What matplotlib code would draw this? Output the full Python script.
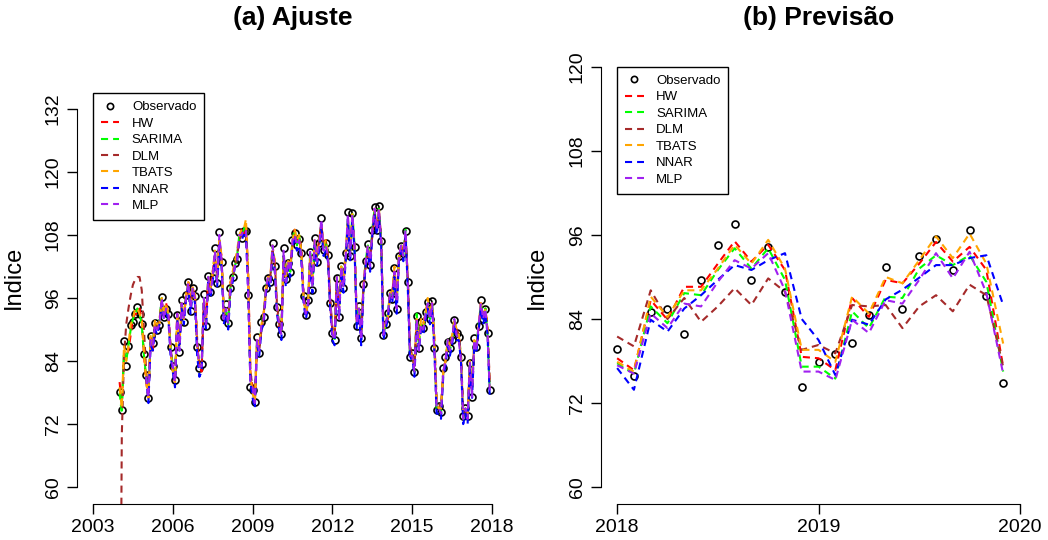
"""Ajuste (2004-2017) e previsão (2018-2019) do índice mensal por seis modelos."""

import matplotlib
matplotlib.use("Agg")  # headless
import matplotlib.pyplot as plt
from matplotlib.lines import Line2D
import numpy as np

plt.rcParams["font.family"] = ["Liberation Sans", "DejaVu Sans"]

# ---------------------------------------------------------------------------
# (a) Ajuste: Jan/2004 - Dez/2017
# ---------------------------------------------------------------------------
FIT_START = 2004

OBSERVADO = [
    78.2, 74.6, 87.8, 83.1, 86.9, 90.9, 91.5, 93.0, 94.3, 93.0, 91.0, 85.3,
    81.4, 77.0, 88.8, 87.4, 91.3, 90.0, 90.9, 96.1, 92.3, 94.0, 93.0, 86.7,
    83.0, 80.4, 92.8, 85.8, 95.6, 91.5, 96.5, 99.1, 93.6, 97.9, 96.3, 86.7,
    82.6, 83.5, 96.7, 90.7, 100.2, 97.2, 99.9, 105.5, 98.8, 108.6, 102.9, 92.3,
    94.9, 91.2, 98.0, 100.0, 102.6, 103.5, 108.6, 107.5, 108.8, 108.8, 96.6, 79.1,
    78.5, 76.3, 88.6, 85.5, 91.5, 92.4, 98.0, 99.8, 99.0, 106.4, 102.1, 94.2,
    91.0, 89.1, 105.5, 99.6, 102.7, 101.0, 107.0, 108.3, 106.0, 107.2, 104.5, 96.3,
    92.8, 95.6, 104.8, 97.5, 107.4, 102.9, 106.4, 111.2, 105.1, 106.4, 104.2, 95.0,
    89.3, 88.1, 99.8, 92.3, 102.1, 98.0, 104.6, 112.4, 104.0, 112.2, 105.8, 90.7,
    94.5, 88.3, 98.6, 103.1, 106.2, 102.3, 108.9, 113.3, 108.9, 113.6, 106.8, 88.9,
    91.0, 93.1, 97.0, 95.9, 101.7, 94.0, 104.0, 105.9, 104.5, 108.8, 99.1, 84.8,
    85.6, 81.9, 92.6, 86.4, 91.5, 90.2, 93.4, 95.3, 92.1, 95.4, 86.5, 74.6,
    75.5, 74.4, 82.6, 84.7, 87.7, 86.5, 88.1, 91.8, 89.4, 88.6, 84.7, 73.5,
    75.0, 73.5, 83.7, 77.1, 88.3, 86.6, 90.7, 95.6, 92.0, 93.9, 89.4, 78.4,
]

HW_FIT = [
    80, 76, 85, 85, 86, 89, 92, 93, 93, 94, 92, 85,
    80, 77, 89, 86, 91, 91, 92, 95, 93, 95, 93, 86,
    82, 80, 93, 88, 94, 93, 96, 99, 95, 98, 96, 88,
    83, 82, 95, 92, 99, 98, 101, 104, 100, 106, 104, 93,
    92, 92, 99, 100, 103, 104, 107, 109, 108, 110, 101, 82,
    79, 76, 87, 87, 90, 93, 97, 100, 100, 105, 103, 94,
    90, 90, 103, 100, 103, 102, 106, 109, 107, 108, 105, 96,
    93, 94, 104, 99, 106, 104, 107, 110, 106, 107, 104, 95,
    90, 89, 99, 94, 101, 99, 104, 110, 105, 111, 106, 92,
    93, 89, 98, 102, 105, 103, 108, 112, 109, 113, 107, 90,
    91, 92, 97, 97, 101, 96, 103, 106, 105, 108, 100, 86,
    85, 83, 92, 88, 91, 91, 93, 95, 93, 95, 88, 76,
    75, 75, 82, 84, 87, 87, 88, 91, 90, 89, 85, 74,
    74, 74, 83, 79, 87, 87, 90, 95, 92, 94, 90, 79,
]

SARIMA_FIT = [
    78, 74, 86, 84, 87, 90, 92, 93, 94, 93, 91, 85,
    81, 78, 88, 88, 91, 90, 92, 96, 93, 94, 93, 87,
    83, 81, 92, 87, 95, 92, 96, 99, 94, 98, 96, 87,
    83, 83, 96, 91, 100, 98, 100, 105, 99, 107, 103, 93,
    94, 91, 98, 100, 102, 104, 108, 108, 109, 110, 99, 80,
    78, 76, 88, 86, 91, 93, 98, 100, 99, 106, 102, 94,
    91, 90, 104, 100, 103, 101, 107, 109, 106, 108, 104, 96,
    93, 95, 105, 98, 107, 103, 106, 110, 105, 107, 104, 95,
    90, 88, 100, 93, 102, 98, 104, 111, 104, 112, 106, 91,
    94, 89, 98, 103, 106, 103, 109, 113, 109, 113, 107, 89,
    91, 93, 97, 96, 101, 95, 104, 106, 104, 109, 99, 85,
    85, 82, 93, 87, 91, 90, 93, 95, 92, 95, 87, 75,
    75, 74, 82, 84, 88, 86, 88, 92, 89, 89, 85, 73,
    75, 73, 84, 78, 88, 87, 91, 95, 92, 94, 89, 78,
]

DLM_FIT = [
    0, 70, 85, 91, 94, 96.5, 98.5, 99.5, 100, 100, 97.5, 90,
    82, 78, 88, 87, 91, 90, 92, 95, 93, 94, 93, 87,
    82, 80, 92, 87, 95, 93, 96, 98, 95, 97, 96, 88,
    83, 83, 95, 92, 99, 98, 100, 104, 100, 107, 104, 93,
    93, 92, 98, 100, 102, 104, 107, 108, 108, 109, 100, 82,
    79, 77, 87, 86, 90, 93, 97, 100, 100, 105, 103, 95,
    91, 90, 103, 100, 103, 102, 106, 108, 107, 107, 105, 97,
    93, 95, 104, 99, 106, 104, 106, 110, 106, 106, 104, 96,
    90, 89, 99, 94, 101, 99, 104, 110, 105, 111, 106, 92,
    93, 89, 98, 102, 105, 103, 108, 112, 109, 112, 107, 91,
    91, 92, 97, 97, 101, 96, 103, 105, 105, 107, 100, 87,
    85, 83, 91, 88, 91, 91, 93, 95, 93, 94, 88, 77,
    76, 75, 82, 84, 87, 87, 88, 91, 90, 89, 85, 75,
    75, 74, 83, 79, 87, 87, 90, 94, 92, 93, 90, 80,
]

TBATS_FIT = [
    79, 75, 87, 84, 87, 91, 92, 94, 94, 93, 92, 86,
    80, 77, 89, 87, 92, 91, 91, 96, 93, 95, 93, 86,
    82, 80, 93, 87, 95, 92, 97, 99, 95, 98, 97, 87,
    83, 83, 96, 92, 100, 98, 101, 105, 100, 107, 104, 93,
    93, 92, 99, 101, 103, 105, 108, 109, 109, 111, 100, 81,
    78, 76, 88, 87, 91, 93, 98, 100, 100, 106, 103, 95,
    90, 90, 104, 100, 103, 102, 107, 109, 107, 108, 105, 96,
    93, 95, 104, 99, 107, 104, 107, 110, 106, 107, 104, 95,
    90, 89, 100, 94, 102, 99, 105, 111, 105, 112, 106, 91,
    94, 89, 99, 103, 106, 103, 109, 113, 110, 113, 107, 90,
    91, 92, 97, 97, 102, 96, 104, 106, 105, 108, 100, 86,
    85, 83, 92, 88, 92, 91, 93, 96, 93, 95, 88, 76,
    75, 75, 82, 84, 88, 87, 89, 92, 90, 89, 85, 74,
    74, 74, 84, 79, 88, 87, 91, 95, 92, 94, 90, 79,
]

# NNAR and MLP need 12 lags, so their fitted values start in Jan/2005
NNAR_FIT = [
    81, 76, 87, 86, 90, 89, 91, 95, 92, 93, 92, 85,
    82, 79, 92, 86, 94, 91, 96, 98, 93, 97, 95, 85,
    81, 82, 95, 90, 99, 96, 99, 104, 98, 106, 102, 91,
    93, 90, 97, 99, 102, 103, 107, 107, 108, 108, 97, 80,
    77, 75, 87, 85, 90, 91, 97, 99, 98, 105, 101, 93,
    90, 88, 104, 98, 102, 100, 106, 107, 105, 106, 103, 95,
    92, 94, 103, 97, 106, 102, 105, 110, 104, 105, 103, 94,
    88, 87, 99, 92, 101, 97, 103, 111, 103, 111, 105, 90,
    93, 87, 97, 102, 105, 101, 108, 112, 108, 112, 106, 88,
    90, 92, 96, 95, 100, 93, 103, 105, 103, 108, 98, 84,
    85, 81, 91, 86, 90, 89, 92, 94, 91, 94, 86, 74,
    74, 73, 81, 83, 87, 85, 87, 91, 88, 88, 84, 72,
    74, 72, 83, 77, 87, 86, 90, 94, 91, 93, 89, 77,
]

MLP_FIT = [
    81, 77, 88, 87, 91, 90, 91, 96, 92, 94, 93, 86,
    83, 80, 93, 86, 95, 92, 96, 99, 94, 98, 96, 87,
    83, 83, 96, 91, 100, 97, 100, 105, 99, 108, 103, 92,
    94, 91, 98, 100, 102, 103, 108, 108, 109, 109, 97, 80,
    79, 76, 88, 86, 91, 92, 98, 100, 99, 106, 102, 94,
    91, 89, 105, 99, 103, 101, 107, 108, 106, 107, 104, 96,
    93, 95, 105, 98, 107, 103, 106, 111, 105, 106, 104, 95,
    89, 88, 100, 92, 102, 98, 104, 112, 104, 112, 106, 91,
    94, 88, 98, 103, 106, 102, 109, 113, 109, 113, 107, 89,
    91, 93, 97, 96, 101, 94, 104, 106, 104, 109, 99, 85,
    85, 82, 92, 86, 91, 90, 93, 95, 92, 95, 86, 75,
    75, 74, 82, 84, 88, 86, 88, 92, 89, 88, 84, 73,
    75, 73, 84, 77, 88, 86, 91, 95, 92, 94, 89, 78,
]

# ---------------------------------------------------------------------------
# (b) Previsão: Jan/2018 - Dez/2019
# ---------------------------------------------------------------------------
FC_START = 2018

OBS_FC = [79.7, 75.8, 85.0, 85.4, 81.9, 89.6, 94.6, 97.5, 89.5, 94.3, 87.9, 74.3,
          77.8, 79.0, 80.6, 84.6, 91.4, 85.5, 93.0, 95.4, 91.0, 96.7, 87.3, 74.8]
HW_FC = [78.4, 76.7, 86.7, 83.9, 88.6, 88.6, 91.9, 95.1, 92.2, 94.6, 91.0, 78.6,
         78.4, 76.7, 87.0, 84.3, 89.6, 89.1, 91.9, 95.0, 92.2, 94.3, 91.0, 77.2]
SARIMA_FC = [77.7, 76.2, 85.8, 83.4, 87.7, 87.4, 91.0, 94.1, 91.2, 94.1, 89.6, 77.2,
             77.2, 75.5, 85.1, 82.7, 87.2, 87.0, 91.2, 93.1, 91.7, 93.1, 89.3, 76.5]
DLM_FC = [81.5, 80.1, 88.1, 84.0, 87.0, 83.6, 85.8, 88.4, 86.0, 89.8, 87.9, 79.6,
          80.3, 79.1, 86.0, 85.8, 86.0, 82.7, 85.8, 87.4, 85.1, 88.9, 87.4, 77.2]
TBATS_FC = [77.9, 76.5, 87.2, 84.3, 88.1, 88.1, 91.2, 94.6, 91.9, 95.3, 91.2, 79.6,
            79.6, 77.9, 87.2, 84.8, 90.0, 89.1, 92.4, 95.8, 92.7, 96.2, 91.9, 80.5]
NNAR_FC = [77.0, 73.9, 83.9, 82.2, 85.5, 87.4, 89.6, 91.7, 91.0, 92.4, 93.4, 84.0,
           81.0, 76.0, 83.9, 83.2, 86.8, 88.2, 89.9, 91.7, 91.7, 92.7, 93.1, 86.0]
MLP_FC = [77.4, 76.2, 84.8, 82.7, 86.2, 85.8, 89.3, 92.4, 91.2, 93.4, 88.1, 76.5,
          76.5, 75.3, 83.9, 82.0, 86.7, 86.2, 89.6, 93.4, 89.8, 93.6, 87.7, 76.2]

MODELS = ["HW", "SARIMA", "DLM", "TBATS", "NNAR", "MLP"]
COLORS = {
    "HW": "#FF0000",
    "SARIMA": "#00FF00",
    "DLM": "#A52A2A",
    "TBATS": "#FFA500",
    "NNAR": "#0000FF",
    "MLP": "#A020F0",
}
DASHES = (3.4, 2.4)
LW = 1.5


def monthly(start, n):
    return start + np.arange(n) / 12.0


def style_axes(ax, xticks, yticks, xlim, ylim):
    ax.set_xlim(*xlim)
    ax.set_ylim(*ylim)
    ax.set_xticks(xticks)
    ax.set_yticks(yticks)
    for side in ("top", "right"):
        ax.spines[side].set_visible(False)
    ax.spines["left"].set_bounds(yticks[0], yticks[-1])
    ax.spines["bottom"].set_bounds(xticks[0], xticks[-1])
    ax.tick_params(direction="out", length=7, width=1, labelsize=14, pad=4)
    ax.tick_params(axis="y", labelrotation=90)
    for lab in ax.get_yticklabels():
        lab.set_va("center")
    ax.set_ylabel("Indice", fontsize=17)
    ax.yaxis.set_label_coords(-0.122, 0.5)


def add_legend(ax, anchor):
    handles = [Line2D([], [], marker="o", ls="none", mfc="none", mec="black",
                      ms=4.5, mew=1.2)]
    for m in MODELS:
        handles.append(Line2D([], [], color=COLORS[m], lw=LW, dashes=DASHES))
    leg = ax.legend(handles, ["Observado"] + MODELS, loc="upper left",
                    bbox_to_anchor=anchor, bbox_transform=ax.transData,
                    borderaxespad=0, fontsize=9.5, labelspacing=0.32,
                    handlelength=1.4, handletextpad=0.95, borderpad=0.6,
                    fancybox=False, framealpha=1)
    leg.get_frame().set_edgecolor("black")
    leg.get_frame().set_linewidth(1.0)


def main():
    fig = plt.figure(figsize=(10.48, 5.4), dpi=100)
    ax1 = fig.add_axes([0.0735, 0.0667, 0.4112, 0.8407])
    ax2 = fig.add_axes([0.5735, 0.0667, 0.4151, 0.8407])

    # ---- (a) Ajuste
    t = monthly(FIT_START, len(OBSERVADO))
    ax1.plot(t, OBSERVADO, "o", mfc="none", mec="black", ms=5, mew=1.2, zorder=2)
    fits = {"HW": HW_FIT, "SARIMA": SARIMA_FIT, "DLM": DLM_FIT,
            "TBATS": TBATS_FIT, "NNAR": NNAR_FIT, "MLP": MLP_FIT}
    for m in MODELS:
        y = fits[m]
        ax1.plot(t[len(t) - len(y):], y, color=COLORS[m], lw=LW, dashes=DASHES, zorder=3)
    style_axes(ax1, list(range(2003, 2019, 3)), list(range(60, 133, 12)),
               (2002.4, 2018.6), (56.8, 143.2))
    add_legend(ax1, (2003, 135))
    ax1.text(0.5, 1.07, "(a) Ajuste", transform=ax1.transAxes, ha="center",
             va="center", fontsize=19, fontweight="bold")

    # ---- (b) Previsão
    tf = monthly(FC_START, len(OBS_FC))
    ax2.plot(tf, OBS_FC, "o", mfc="none", mec="black", ms=5, mew=1.2, zorder=2)
    fcs = {"HW": HW_FC, "SARIMA": SARIMA_FC, "DLM": DLM_FC,
           "TBATS": TBATS_FC, "NNAR": NNAR_FC, "MLP": MLP_FC}
    for m in MODELS:
        ax2.plot(tf, fcs[m], color=COLORS[m], lw=LW, dashes=DASHES, zorder=3)
    style_axes(ax2, [2018, 2019, 2020], list(range(60, 121, 12)),
               (2017.92, 2020.08), (57.6, 122.4))
    add_legend(ax2, (2018, 120))
    ax2.text(0.5, 1.07, "(b) Previsão", transform=ax2.transAxes, ha="center",
             va="center", fontsize=19, fontweight="bold")

    fig.savefig("out.png", dpi=100)
    plt.close(fig)


if __name__ == "__main__":
    main()
